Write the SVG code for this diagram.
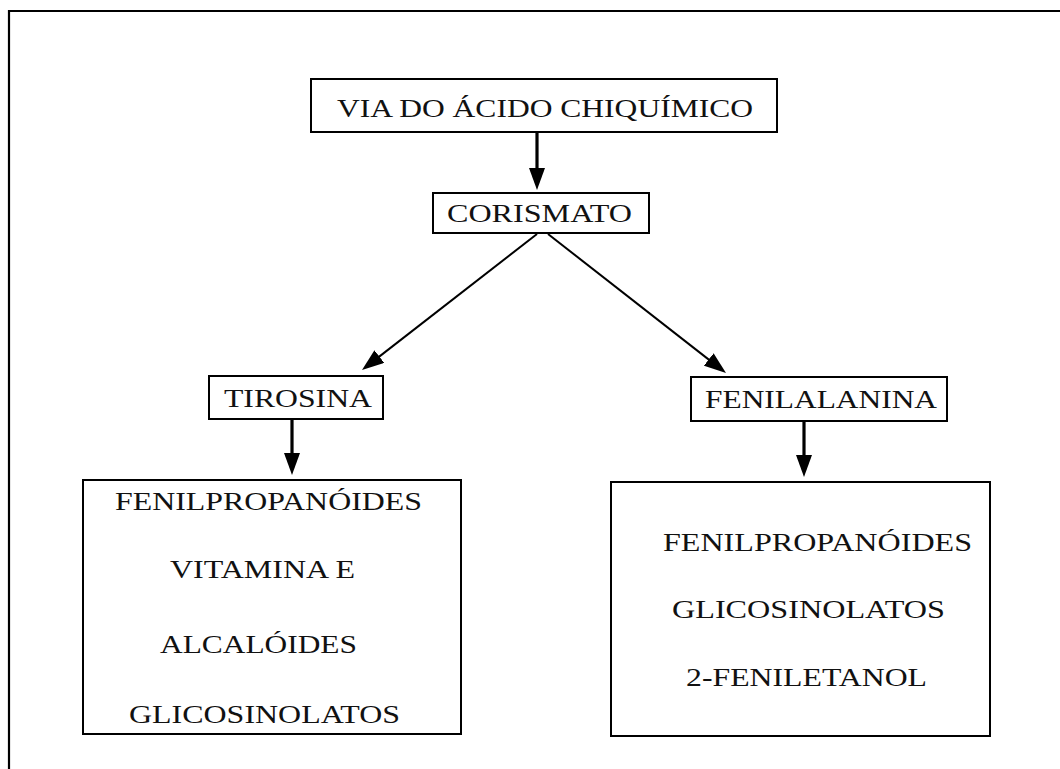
<svg xmlns="http://www.w3.org/2000/svg" width="1060" height="769" viewBox="0 0 1060 769">
  <defs>
    <style>
      .box { fill: #ffffff; stroke: #000000; stroke-width: 2; }
      .frame { fill: none; stroke: #000000; stroke-width: 2.2; }
      .lbl { font-family: "Liberation Serif", "Times New Roman", serif; font-size: 26px; fill: #111111; }
      .thick { stroke: #000000; stroke-width: 3.2; fill: none; }
      .thin { stroke: #000000; stroke-width: 2; fill: none; }
    </style>
    <!-- tip sits 8px beyond the path end so the stroke stays inside the head -->
    <marker id="head" viewBox="0 0 22 16" refX="14" refY="8" markerWidth="22" markerHeight="16" markerUnits="userSpaceOnUse" orient="auto">
      <path d="M0,0 L22,8 L0,16 z" fill="#000000"/>
    </marker>
  </defs>
  <rect width="1060" height="769" fill="#ffffff"/>

  <!-- outer frame (open to the right and bottom) -->
  <path class="frame" d="M9,769 V11 H1060"/>

  <!-- connectors -->
  <g id="connectors">
    <path class="thick" d="M537,132 V182" marker-end="url(#head)"/>
    <path class="thin" d="M537,234 L368.3,365.1" marker-end="url(#head)"/>
    <path class="thin" d="M548,234 L719.7,368.1" marker-end="url(#head)"/>
    <path class="thick" d="M292,419 V467" marker-end="url(#head)"/>
    <path class="thick" d="M804,421 V469" marker-end="url(#head)"/>
  </g>

  <g id="node-chiquimico">
    <rect class="box" x="311" y="79" width="466" height="53"/>
    <text class="lbl" x="337" y="117" textLength="416" lengthAdjust="spacingAndGlyphs">VIA DO ÁCIDO CHIQUÍMICO</text>
  </g>

  <g id="node-corismato">
    <rect class="box" x="433" y="193" width="216" height="40"/>
    <text class="lbl" x="447" y="222" textLength="185" lengthAdjust="spacingAndGlyphs">CORISMATO</text>
  </g>

  <g id="node-tirosina">
    <rect class="box" x="209" y="376" width="174" height="43"/>
    <text class="lbl" x="224" y="407" textLength="148" lengthAdjust="spacingAndGlyphs">TIROSINA</text>
  </g>

  <g id="node-fenilalanina">
    <rect class="box" x="691" y="377" width="256" height="44"/>
    <text class="lbl" x="705" y="408" textLength="232" lengthAdjust="spacingAndGlyphs">FENILALANINA</text>
  </g>

  <g id="node-produtos-tirosina">
    <rect class="box" x="83" y="480" width="378" height="254"/>
    <text class="lbl" x="115" y="510" textLength="307" lengthAdjust="spacingAndGlyphs">FENILPROPANÓIDES</text>
    <text class="lbl" x="170" y="578" textLength="185" lengthAdjust="spacingAndGlyphs">VITAMINA E</text>
    <text class="lbl" x="160" y="653" textLength="197" lengthAdjust="spacingAndGlyphs">ALCALÓIDES</text>
    <text class="lbl" x="129" y="723" textLength="271" lengthAdjust="spacingAndGlyphs">GLICOSINOLATOS</text>
  </g>

  <g id="node-produtos-fenilalanina">
    <rect class="box" x="611" y="482" width="379" height="254"/>
    <text class="lbl" x="663" y="551" textLength="309" lengthAdjust="spacingAndGlyphs">FENILPROPANÓIDES</text>
    <text class="lbl" x="672" y="618" textLength="273" lengthAdjust="spacingAndGlyphs">GLICOSINOLATOS</text>
    <text class="lbl" x="686" y="686" textLength="241" lengthAdjust="spacingAndGlyphs">2-FENILETANOL</text>
  </g>
</svg>
